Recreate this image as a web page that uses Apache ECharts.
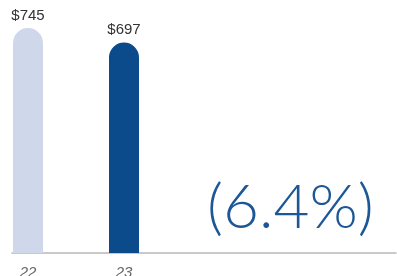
<!DOCTYPE html>
<html>
<head>
<meta charset="utf-8">
<script src="https://cdn.jsdelivr.net/npm/echarts@6/dist/echarts.min.js"></script>
<style>
html, body { margin: 0; padding: 0; background: #fff; }
#chart { width: 397px; height: 276px; }
</style>
</head>
<body>
<div id="chart"></div>
<script>
var years = ['22', '23'];
var revenue = [745, 697];
var barColors = ['#cfd8ea', '#0b4a8b'];
var changeText = '(6.4%)';

// each year sits in a slot of 3 narrow categories, so the bars keep their spacing
var stride = 3, slots = 12;
var cats = [], vals = [];
for (var i = 0; i < slots; i++) { cats.push(''); vals.push(null); }
years.forEach(function (y, i) {
  cats[i * stride] = y;
  vals[i * stride] = { value: revenue[i], itemStyle: { color: barColors[i] } };
});

var myChart = echarts.init(document.getElementById('chart'));
myChart.setOption({
  animation: false,
  grid: { left: 12, right: 1, top: 0, bottom: 23, outerBoundsMode: 'none', containLabel: false },
  xAxis: {
    type: 'category',
    data: cats,
    axisTick: { show: false },
    axisLine: { lineStyle: { color: '#b8b8b8', width: 1.5 } },
    axisLabel: { interval: 0, margin: 12, color: '#666', fontSize: 15, fontStyle: 'italic' }
  },
  yAxis: {
    type: 'value', min: 0, max: 838, show: false,
    splitLine: { show: false }
  },
  series: [{
    type: 'bar',
    data: vals,
    barWidth: 30,
    itemStyle: { borderRadius: [15, 15, 0, 0] },
    label: {
      show: true, position: 'top', distance: 5,
      color: '#333', fontSize: 15, fontFamily: 'Liberation Sans Narrow, Arial',
      formatter: function (p) { return '$' + p.value; }
    }
  }],
  graphic: [{
    type: 'text',
    left: 207, top: 177,
    style: { text: changeText, fill: '#1c5796', font: '300 62px Lato, sans-serif' }
  }]
});
</script>
</body>
</html>
